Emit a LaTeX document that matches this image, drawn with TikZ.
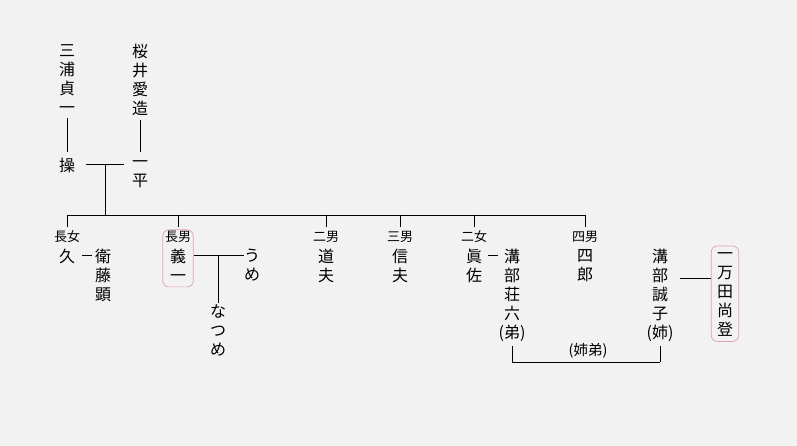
\documentclass[tikz,border=0pt]{standalone}
\usepackage{fontspec}
\newfontfamily\jp{Noto Sans CJK JP}
\usetikzlibrary{fit}
\definecolor{bg}{RGB}{242,242,242}
\definecolor{pinkbox}{RGB}{226,160,178}
\newcommand\vs{\rule[-3pt]{0pt}{13pt}}
\begin{document}
\begin{tikzpicture}[x=1pt,y=-1pt,
  nm/.style={font=\jp\fontsize{16}{19}\selectfont, align=center, inner sep=0pt, anchor=north},
  lb/.style={font=\jp\fontsize{13}{15}\selectfont, inner sep=0pt, text height=10pt, anchor=base},
  ln/.style={line width=0.9pt, black},
  rbox/.style={draw=pinkbox, rounded corners=6pt, line width=0.7pt}]
\fill[bg] (0,0) rectangle (797,446);
\useasboundingbox (0,0) rectangle (797,446);
% row coordinates
\coordinate (r0) at (0,164);
\coordinate (r1) at (0,255);
\coordinate (r2) at (0,278);
\coordinate (bus) at (0,215);
\coordinate (br) at (0,362);
\coordinate (pj) at (105,164);
% parents
\node[nm] (miura) at (67,44) {\vs{}三\\\vs{}浦\\\vs{}貞\\\vs{}一};
\node[nm] (sakurai) at (140,44) {\vs{}桜\\\vs{}井\\\vs{}愛\\\vs{}造};
\node[nm] (misao) at (67,158) {\vs{}操};
\node[nm] (ippei) at (140,157) {\vs{}一\\\vs{}平};
% children labels
\node[lb] (l1) at (67,242) {長女};
\node[lb] (l2) at (178,242) {長男};
\node[lb] (l3) at (326,242) {二男};
\node[lb] (l4) at (400,242) {三男};
\node[lb] (l5) at (474,242) {二女};
\node[lb] (l6) at (585,242) {四男};
% children
\node[nm] (kyu) at (67,249) {\vs{}久};
\node[nm] (eto) at (103,249) {\vs{}衛\\\vs{}藤\\\vs{}顕};
\node[nm] (yoshi) at (178,249) {\vs{}義\\\vs{}一};
\node[nm] (ume) at (252,249) {\vs{}う\\\vs{}め};
\node[nm] (natsume) at (218,304) {\vs{}な\\\vs{}つ\\\vs{}め};
\node[nm] (michio) at (326,249) {\vs{}道\\\vs{}夫};
\node[nm] (nobuo) at (400,249) {\vs{}信\\\vs{}夫};
\node[nm] (masa) at (474,249) {\vs{}眞\\\vs{}佐};
\node[nm] (mizobe) at (512,249) {\vs{}溝\\\vs{}部\\\vs{}荘\\\vs{}六\\\vs{}(弟)};
\node[nm] (shiro) at (585,249) {\vs{}四\\\vs{}郎};
\node[nm] (seiko) at (660,249) {\vs{}溝\\\vs{}部\\\vs{}誠\\\vs{}子\\\vs{}(姉)};
\node[nm] (ichimada) at (725,249) {\vs{}一\\\vs{}万\\\vs{}田\\\vs{}尚\\\vs{}登};
\node[lb, font=\jp\fontsize{14.5}{15}\selectfont] (kyodai) at (588,355) {(姉弟)};
% boxes
\node[rbox, fit=(l2)(yoshi), inner xsep=2pt, inner ysep=2pt] (box1) {};
\node[rbox, fit=(ichimada), inner xsep=5.5pt, inner ysep=3pt] (box2) {};
% connectors
\draw[ln, shorten <=2pt, shorten >=6pt] (miura.south) -- (misao.north);
\draw[ln, shorten <=2pt, shorten >=5pt] (sakurai.south) -- (ippei.north);
\draw[ln, shorten <=10.5pt, shorten >=7.5pt] (misao.east |- r0) -- (ippei.west |- r0);
\draw[ln] (pj) -- (pj |- bus);
\draw[ln] (l1.north |- bus) -- (l6.north |- bus);
\foreach \l in {l1,l2,l3,l4,l5,l6}
  \draw[ln, shorten >=4.5pt] (\l.north |- bus) -- (\l.north);
\draw[ln, shorten <=7pt, shorten >=3pt] (kyu.east |- r1) -- (eto.west |- r1);
\draw[ln] (box1.east |- r1) -- (ume.west |- r1);
\draw[ln, shorten >=1pt] (natsume.north |- r1) -- (natsume.north);
\draw[ln, shorten <=6pt, shorten >=14pt] (masa.east |- r1) -- (mizobe.north |- r1);
\draw[ln, shorten <=4pt] (mizobe.south) -- (mizobe.south |- br) -- (seiko.south |- br);
\draw[ln, shorten >=4pt] (seiko.south |- br) -- (seiko.south);
\draw[ln, shorten <=20pt] (seiko.north |- r2) -- (box2.west |- r2);
\end{tikzpicture}
\end{document}
